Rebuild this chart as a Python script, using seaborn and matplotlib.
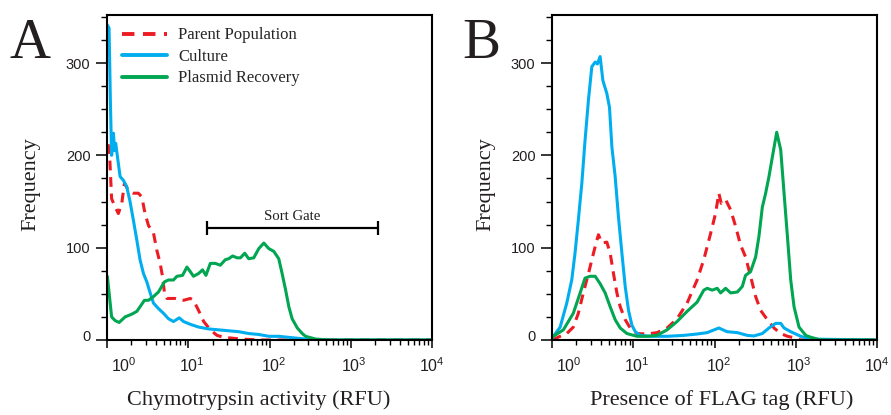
import matplotlib
matplotlib.use("Agg")
import numpy as np
import matplotlib.pyplot as plt
import matplotlib.transforms as mtransforms
from matplotlib.ticker import LogLocator, MultipleLocator, NullFormatter
import seaborn as sns

# ---- panel A: chymotrypsin activity ----
a_parent_x = [1.03, 1.07, 1.14, 1.26, 1.38, 1.52, 1.64, 1.83, 2.11, 2.43, 2.68, 2.94, 3.24, 3.73,
              4.11, 4.51, 4.82, 5.10, 5.46, 6.91, 8.75, 10.6, 11.6, 13.4, 15.5, 18.7, 22.6, 27.3,
              43.9, 80, 10000]
a_parent_y = [212, 205, 153, 144, 137, 148, 170, 162, 159, 159, 155, 137, 124, 116,
              97, 83, 69, 51, 45, 45, 43, 45, 43, 32, 20, 11, 5, 3,
              1, 0, 0]

a_culture_x = [1.01, 1.06, 1.10, 1.14, 1.20, 1.24, 1.28, 1.38, 1.45, 1.59, 1.75, 1.92, 2.11, 2.33,
               2.55, 2.81, 3.09, 3.40, 3.73, 4.30, 4.95, 5.71, 6.58, 7.74, 8.75, 10.6, 13.4, 17.8,
               23.7, 31.4, 41.8, 55.5, 73.8, 98, 130, 190, 278, 566, 10000]
a_culture_y = [341, 338, 260, 200, 224, 205, 213, 191, 177, 173, 166, 150, 130, 108,
               87, 72, 63, 51, 40, 34, 29, 23, 20, 24, 20, 17, 14, 12,
               11, 10, 9, 7, 6, 4, 4, 2.5, 1, 0, 0]

a_plasmid_x = [1.01, 1.14, 1.26, 1.41, 1.67, 2.02, 2.33, 2.55, 2.89, 3.24, 3.73, 4.30, 5.10, 5.71,
               6.58, 7.25, 8.51, 9.63, 10.6, 11.6, 13.4, 15.0, 16.5, 18.7, 21.5, 24.8, 28.6, 31.4,
               35.2, 39.9, 43.9, 49.6, 55.5, 64.0, 73.8, 85.1, 98.0, 113, 130, 143, 158, 173,
               190, 220, 253, 278, 370, 566, 10000]
a_plasmid_y = [69, 25, 21, 19, 25, 28, 31, 36, 43, 43, 47, 52, 63, 65,
               65, 69, 70, 79, 74, 69, 72, 76, 70, 83, 83, 81, 87, 88,
               91, 89, 89, 94, 88, 89, 99, 105, 99, 96, 88, 72, 54, 36,
               23, 13, 7, 4, 1, 0, 0]

gate_lo, gate_hi, gate_y, gate_text_y = 17.2, 2150, 121, 134

# ---- panel B: FLAG tag ----
b_parent_x = [1.0, 1.26, 1.52, 1.83, 2.11, 2.43, 2.81, 3.24, 3.56, 3.73, 4.11, 4.73, 5.20, 5.71,
              6.29, 6.91, 7.96, 9.18, 11.1, 14.8, 19.6, 26.1, 34.6, 46.0, 61.1, 73.8, 89.3, 103,
              113, 121, 137, 158, 182, 209, 241, 278, 321, 370, 447, 540, 653, 790, 953, 1153, 10000]
b_parent_y = [0, 4, 7, 14, 29, 51, 72, 94, 108, 114, 105, 106, 94, 72,
              51, 36, 22, 13, 7, 6.5, 8, 13, 23, 40, 65, 87, 115, 137,
              159, 148, 152, 141, 123, 103, 90, 69, 47, 32, 22, 13, 7, 4, 2.5, 0, 0]

b_culture_x = [1.0, 1.04, 1.26, 1.52, 1.75, 1.92, 2.11, 2.33, 2.55, 2.81, 3.09, 3.40, 3.62, 3.91,
               4.23, 4.73, 5.10, 5.46, 5.99, 6.58, 7.25, 7.96, 8.75, 9.63, 10.6, 12.2, 16.2, 26.1,
               41.8, 61.1, 81.3, 113, 143, 191, 253, 306, 388, 468, 566, 653, 718, 867, 1153, 1531, 10000]
b_culture_y = [1, 4, 14, 40, 65, 94, 130, 170, 216, 260, 296, 301, 299, 307,
               281, 267, 252, 209, 177, 133, 94, 58, 32, 16, 9, 5, 4, 4,
               5, 6.5, 8, 13, 9, 8, 5, 4.4, 7, 13, 18, 18, 13, 9, 4, 1, 0]

b_plasmid_x = [1.0, 1.04, 1.38, 1.83, 2.22, 2.55, 2.94, 3.40, 3.91, 4.51, 5.20, 5.99, 6.91, 8.36,
               11.1, 14.8, 19.6, 26.1, 34.6, 46.0, 61.1, 73.8, 81.3, 93.7, 108, 119, 137, 158,
               191, 220, 241, 278, 321, 352, 388, 426, 468, 515, 583, 653, 718, 790, 867, 953,
               1097, 1328, 1531, 2036, 10000]
b_plasmid_y = [1, 4, 11, 29, 51, 67, 69, 69, 61, 51, 36, 22, 13, 7,
               4, 4, 5, 11, 20, 31, 41, 54, 56, 54, 56, 51, 56, 51,
               52, 58, 70, 74, 90, 112, 144, 159, 177, 198, 225, 206, 159, 112, 65, 36,
               14, 5, 3, 0, 0]

decades = [1, 10, 100, 1000, 10000]
decade_labels = [r"$\mathregular{10^{%d}}$" % p for p in range(5)]
y_major = [0, 100, 200, 300]

RED = "#ED1C24"
BLUE = "#00AEEF"
GREEN = "#00A651"
INK = "#231F20"

sns.set_style("ticks")
plt.rcParams["font.family"] = ["Liberation Serif", "DejaVu Serif"]

fig = plt.figure(figsize=(8.91, 4.15), dpi=100)
ax_a = fig.add_axes([107 / 891, 75 / 415, 325 / 891, 325 / 415])
ax_b = fig.add_axes([552 / 891, 75 / 415, 325 / 891, 325 / 415])


def draw_panel(ax, series, xlabel, xlabel_x, ylabel_x):
    ax.set_xscale("log")
    for x, y, color, ls, name in series:
        sns.lineplot(x=x, y=y, ax=ax, color=color, lw=2.2, linestyle=ls,
                     estimator=None, errorbar=None, sort=False, label=name, legend=False)
    ax.set_xlim(1, 1e4)
    ax.set_ylim(0, 352)
    ax.set_xticks(decades)
    ax.set_xticklabels(decade_labels)
    ax.xaxis.set_minor_locator(LogLocator(base=10, subs=range(2, 10), numticks=20))
    ax.xaxis.set_minor_formatter(NullFormatter())
    ax.set_yticks(y_major)
    ax.yaxis.set_minor_locator(MultipleLocator(25))
    ax.tick_params(axis="x", which="major", length=5.8, width=1.1, pad=6, labelsize=11.5)
    ax.tick_params(axis="x", which="minor", length=3.6, width=1.0)
    ax.tick_params(axis="y", which="major", length=7.6, width=1.1, pad=4.3, labelsize=10.5)
    ax.tick_params(axis="y", which="minor", length=4, width=1.0)
    ax.tick_params(which="both", direction="out", color="black",
                   labelcolor=INK, labelfontfamily="Liberation Sans")
    for sp in ax.spines.values():
        sp.set_linewidth(1.5)
        sp.set_color("black")

    shifts = [17, 4, 4, 3, 0]
    for dx, lab in zip(shifts, ax.get_xticklabels()):
        lab.set_transform(lab.get_transform() +
                          mtransforms.ScaledTranslation(dx / 100, 0, fig.dpi_scale_trans))
    zero_lab = ax.get_yticklabels()[0]
    zero_lab.set_transform(zero_lab.get_transform() +
                           mtransforms.ScaledTranslation(0, 5 / 100, fig.dpi_scale_trans))

    ax.set_xlabel(xlabel, fontsize=16, color=INK)
    ax.xaxis.set_label_coords(xlabel_x, -0.155)
    ax.set_ylabel("Frequency", fontsize=16, color=INK)
    ax.yaxis.set_label_coords(ylabel_x, 0.479)


draw_panel(ax_a,
           [(a_parent_x, a_parent_y, RED, (0, (3.2, 2.2)), "Parent Population"),
            (a_culture_x, a_culture_y, BLUE, "-", "Culture"),
            (a_plasmid_x, a_plasmid_y, GREEN, "-", "Plasmid Recovery")],
           "Chymotrypsin activity (RFU)", 0.466, -0.206)
draw_panel(ax_b,
           [(b_parent_x, b_parent_y, RED, (0, (3.2, 2.2)), None),
            (b_culture_x, b_culture_y, BLUE, "-", None),
            (b_plasmid_x, b_plasmid_y, GREEN, "-", None)],
           "Presence of FLAG tag (RFU)", 0.5215, -0.174)

# sort gate bracket
gate_mid = np.sqrt(gate_lo * gate_hi)
ax_a.errorbar(gate_mid, gate_y, xerr=[[gate_mid - gate_lo], [gate_hi - gate_mid]],
              fmt="none", ecolor="black", elinewidth=1.6, capsize=5, capthick=1.6)
ax_a.text(gate_mid, gate_text_y, "Sort Gate", ha="center", va="center", fontsize=10.6, color=INK)

leg = ax_a.legend(loc="upper left", bbox_to_anchor=(0.046, 0.962), frameon=False, fontsize=12,
                  handlelength=2.7, handletextpad=0.66, labelspacing=0.33, borderpad=0,
                  borderaxespad=0)
for h in leg.get_lines():
    h.set_linewidth(2.8)

fig.text(10 / 891, 1 - 58 / 415, "A", fontsize=41, ha="left", va="baseline", color=INK)
fig.text(462 / 891, 1 - 58 / 415, "B", fontsize=41, ha="left", va="baseline", color=INK)

fig.savefig("out.png", dpi=100)
